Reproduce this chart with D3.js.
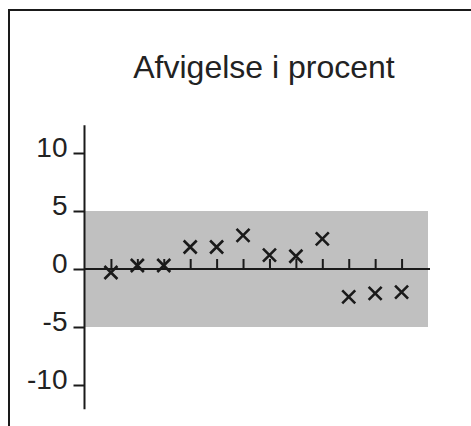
<!DOCTYPE html>
<html><head><meta charset="utf-8">
<script src="https://cdn.jsdelivr.net/npm/d3@7"></script>
<style>body{margin:0;background:#fff}svg{display:block}</style>
</head><body>
<script>
const title = "Afvigelse i procent";
const periods = [1,2,3,4,5,6,7,8,9,10,11,12];
const deviations = [-0.3, 0.3, 0.3, 1.9, 1.9, 2.9, 1.2, 1.1, 2.6, -2.4, -2.1, -2.0];
const yTicks = [10, 5, 0, -5, -10];
const band = [-5, 5];

const W = 471, H = 426;
const svg = d3.select("body").append("svg").attr("width", W).attr("height", H);

const x = d3.scaleLinear().domain([0, 13]).range([84.5, 428]);
const y = d3.scaleLinear().domain([-10, 10]).range([385, 153]);
const ink = "#1a1a1a";

// frame (top + left)
svg.append("path").attr("d", `M9,${H} V10 H${W}`).attr("fill", "none")
  .attr("stroke", ink).attr("stroke-width", 2);

svg.append("text").attr("x", 264).attr("y", 78).attr("text-anchor", "middle")
  .attr("font-family", "Liberation Sans, Arial, sans-serif").attr("font-size", 32)
  .attr("fill", "#222").text(title);

// tolerance band
svg.append("rect").attr("x", x(0)).attr("y", y(band[1]))
  .attr("width", x(13) - x(0)).attr("height", y(band[0]) - y(band[1]))
  .attr("fill", "#c0c0c0");

// y axis
const yAxis = d3.axisLeft(y).tickValues(yTicks).tickSize(11).tickPadding(6)
  .tickFormat(d => String(d));
const gy = svg.append("g").attr("transform", `translate(${x(0)},0)`).call(yAxis);
gy.select(".domain").attr("d", `M0,${y(12.4)}V${y(-12.1)}`).attr("stroke", ink).attr("stroke-width", 2);
gy.selectAll(".tick line").attr("stroke", ink).attr("stroke-width", 2);
gy.selectAll(".tick text").attr("font-family", "Liberation Sans, Arial, sans-serif")
  .attr("font-size", 28).attr("fill", "#222").attr("dy", "0.12em");

// x axis at zero
const xAxis = d3.axisTop(x).tickValues(periods).tickSize(10).tickFormat("");
const gx = svg.append("g").attr("transform", `translate(0,${y(0)})`).call(xAxis);
gx.select(".domain").attr("d", `M${x(0)},0H${x(13)+2}`).attr("stroke", ink).attr("stroke-width", 2);
gx.selectAll(".tick line").attr("stroke", ink).attr("stroke-width", 2);

// markers
const s = 6.5;
svg.append("g").selectAll("path").data(periods).join("path")
  .attr("d", (p, i) => {
    const cx = x(p), cy = y(deviations[i]);
    return `M${cx-s},${cy-s}L${cx+s},${cy+s}M${cx-s},${cy+s}L${cx+s},${cy-s}`;
  })
  .attr("stroke", ink).attr("stroke-width", 2.6).attr("fill", "none");
</script>
</body></html>
